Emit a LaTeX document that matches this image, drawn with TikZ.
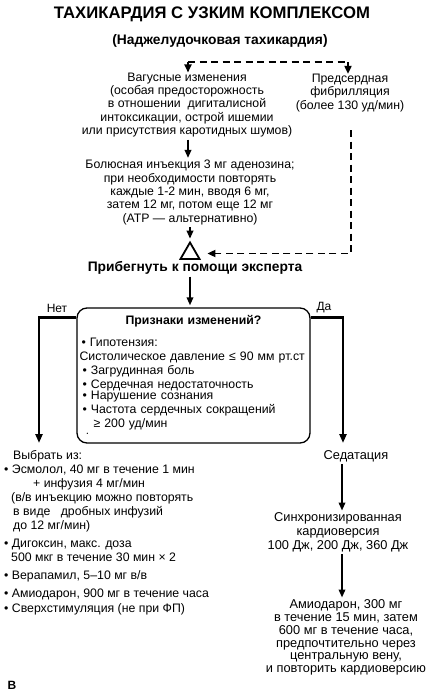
\documentclass[tikz,border=0pt]{standalone}
\usepackage{fontspec}
\setmainfont{Liberation Sans}
\usetikzlibrary{arrows.meta, positioning, shapes.geometric}

\begin{document}
\begin{tikzpicture}[x=1pt, y=-1pt,
    txt/.style={align=center, font=\fontsize{12.3}{13.4}\selectfont, inner sep=0pt},
    rtxt/.style={align=center, font=\fontsize{12.8}{14}\selectfont, inner sep=0pt},
    listtxt/.style={align=left, font=\fontsize{12.3}{14}\selectfont, inner sep=0pt},
    head/.style={font=\bfseries\fontsize{13.8}{15}\selectfont, inner sep=0pt},
    arr/.style={-{Triangle[length=8pt, width=6.5pt]}, line width=1.8pt, shorten >=2pt, shorten <=2pt},
    darr/.style={-{Triangle[length=8pt, width=7pt]}, line width=1.8pt, dash pattern=on 7pt off 4.5pt},
    dline/.style={line width=1.8pt, dash pattern=on 7pt off 4.5pt},
    branch/.style={-{Triangle[length=9pt, width=7pt]}, line width=2.6pt},
    signbox/.style={rectangle, rounded corners=10pt, draw, line width=1.3pt,
                 minimum width=233pt, minimum height=135pt, text width=228pt,
                 inner xsep=2.5pt, align=left, font=\fontsize{12.3}{13.2}\selectfont},
  ]
  \useasboundingbox (0,0) rectangle (430,693);

  % headings
  \node[font=\bfseries\fontsize{16.7}{18}\selectfont, inner sep=0pt] (title) at (212,14) {ТАХИКАРДИЯ С УЗКИМ КОМПЛЕКСОМ};
  \node[head] (subtitle) at (220,41) {(Наджелудочковая тахикардия)};

  % upper branch
  \coordinate (forkL) at (188,62);
  \coordinate (forkR) at (348,62);
  \node[txt] (vagal) at (187,105) {Вагусные изменения\\(особая предосторожность\\в отношении \ дигиталисной\\интоксикации, острой ишемии\\или присутствия каротидных шумов)};
  \node[txt] (af) at (350,93) {Предсердная\\фибрилляция\\(более 130 уд/мин)};
  \node[txt] (bolus) at (190,192.5) {Болюсная инъекция 3 мг аденозина;\\при необходимости повторять\\каждые 1-2 мин, вводя 6 мг,\\затем 12 мг, потом еще 12 мг\\(АТР --- альтернативно)};
  \node[regular polygon, regular polygon sides=3, draw, line width=1.8pt,
        minimum size=22pt, inner sep=0pt] (tri) at (190,253.5) {};
  \node[head] (expert) at (195,268) {Прибегнуть к помощи эксперта};

  \draw[dline] (forkL) -- (forkR);
  \draw[darr] (forkL) -- (vagal.north -| forkL);
  \draw[darr] (forkR) -- (af.north -| forkR);
  \draw[arr] (vagal.south -| forkL) -- (bolus.north -| forkL);
  \draw[arr] (bolus.south -| tri.north) -- (tri.north);
  \coordinate (dX) at (351,0);
  \draw[darr, shorten <=18pt, shorten >=10pt] (af.south -| dX) |- (tri.east);

  % decision box
  \node[signbox] (signs) at (193.5,375.5) {%
    \makebox[\linewidth]{\bfseries Признаки изменений?}\\[9pt]
    \hspace*{2pt}• Гипотензия:\\
    Систолическое давление ≤ 90 мм рт.ст\\[1pt]
    \hspace*{3pt}• Загрудинная боль\\[1pt]
    \hspace*{3pt}• Сердечная недостаточность\\[-2pt]
    \hspace*{3pt}• Нарушение сознания\\[1pt]
    \hspace*{3pt}• Частота сердечных сокращений\\
    \hspace*{14pt}≥ 200 уд/мин\\[-5pt]
    \hspace*{7pt}{\tiny •}};
  \draw[arr] (expert.south -| tri.north) -- (signs.north -| tri.north);

  \node[font=\fontsize{12}{13}\selectfont, inner sep=0pt] (no) at (57,308) {Нет};
  \node[font=\fontsize{12}{13}\selectfont, inner sep=0pt] (yes) at (324,308) {Да};
  \coordinate (noEnd) at (39,443);
  \coordinate (yesEnd) at (343,443);
  \draw[branch] ([yshift=-10pt]signs.north west) -| (noEnd);
  \draw[branch] ([yshift=-10pt]signs.north east) -| (yesEnd);

  % left: drugs
  \node[listtxt, anchor=west] (choose) at (4,532.5) {%
    \hspace*{9pt}Выбрать из:\\
    • Эсмолол, 40 мг в течение 1 мин\\
    \hspace*{29pt}+ инфузия 4 мг/мин\\
    \hspace*{7pt}(в/в инъекцию можно повторять\\
    \hspace*{9pt}в виде \ \ дробных инфузий\\
    \hspace*{9pt}до 12 мг/мин)\\[4pt]
    • Дигоксин, макс. доза\\
    \hspace*{7pt}500 мкг в течение 30 мин × 2\\[4pt]
    • Верапамил, 5–10 мг в/в\\[4pt]
    • Амиодарон, 900 мг в течение часа\\[1pt]
    • Сверхстимуляция (не при ФП)};

  % right: cardioversion
  \coordinate (rX) at (342,0);
  \node[rtxt] (sed) at (356,456) {Седатация};
  \node[rtxt] (sync) at (338,532.5) {Синхронизированная\\кардиоверсия\\100 Дж, 200 Дж, 360 Дж};
  \node[rtxt, font=\fontsize{12.8}{12.8}\selectfont] (amio) at (346,637.5) {Амиодарон, 300 мг\\в течение 15 мин, затем\\600 мг в течение часа,\\предпочтительно через\\центральную вену,\\и повторить кардиоверсию};
  \draw[arr] (sed.south -| rX) -- (sync.north -| rX);
  \draw[arr] (sync.south -| rX) -- (amio.north -| rX);

  \node[font=\bfseries\fontsize{12}{14}\selectfont, inner sep=0pt] (panel) at (12,685) {В};
\end{tikzpicture}
\end{document}
